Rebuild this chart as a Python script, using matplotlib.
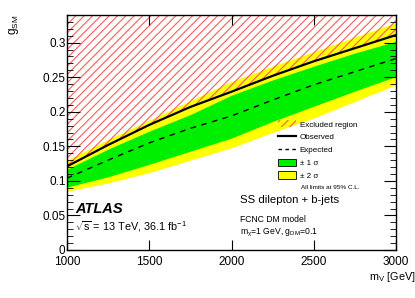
import numpy as np
import matplotlib
matplotlib.use("Agg")
import matplotlib.pyplot as plt
from matplotlib.patches import Patch
from matplotlib.lines import Line2D
from matplotlib.ticker import MultipleLocator

plt.rcParams['font.family'] = ['Liberation Sans', 'DejaVu Sans']
plt.rcParams['mathtext.fontset'] = 'custom'
plt.rcParams['mathtext.rm'] = 'Liberation Sans'
plt.rcParams['mathtext.it'] = 'Liberation Sans'
plt.rcParams['hatch.linewidth'] = 0.8

# mediator mass points (GeV)
m_v = [1000, 1250, 1500, 1750, 2000, 2250, 2500, 2750, 3000]
# limits on g_SM
observed = [0.121, 0.152, 0.181, 0.207, 0.229, 0.252, 0.273, 0.292, 0.311]
expected = [0.104, 0.130, 0.155, 0.176, 0.194, 0.217, 0.239, 0.258, 0.277]
sig1_up = [0.117, 0.146, 0.172, 0.196, 0.224, 0.246, 0.266, 0.285, 0.302]
sig1_dn = [0.091, 0.106, 0.124, 0.143, 0.162, 0.186, 0.208, 0.230, 0.251]
sig2_up = [0.130, 0.160, 0.188, 0.216, 0.244, 0.266, 0.287, 0.308, 0.329]
sig2_dn = [0.085, 0.097, 0.112, 0.130, 0.148, 0.170, 0.191, 0.215, 0.239]

y_top = 0.34

fig = plt.figure(figsize=(4.15, 2.98), dpi=100)
ax = fig.add_axes([67/415, 48/298, 329/415, 235/298])

ax.fill_between(m_v, sig2_dn, sig2_up, color='#ffff00', linewidth=0)
ax.fill_between(m_v, sig1_dn, sig1_up, color='#00ee00', linewidth=0)
ax.plot(m_v, expected, color='black', linestyle=(0, (4, 4)), linewidth=1.0)
ax.fill_between(m_v, observed, y_top, facecolor='none', edgecolor='#ff5a5a',
                hatch='////', linewidth=0)
ax.plot(m_v, observed, color='black', linewidth=1.6)

ax.set_xlim(1000, 3000)
ax.set_ylim(0, y_top)

# ROOT style ticks
ax.xaxis.set_major_locator(MultipleLocator(500))
ax.yaxis.set_major_locator(MultipleLocator(0.05))
ax.yaxis.set_minor_locator(MultipleLocator(0.01))
ax.tick_params(axis='both', which='both', direction='in', top=True, right=True)
ax.tick_params(axis='y', which='major', length=9, labelsize=8.5, pad=1)
ax.tick_params(axis='y', which='minor', length=4.5)
ax.tick_params(axis='x', which='major', length=7, labelsize=8.5, pad=4)
ax.set_yticks([0, 0.05, 0.1, 0.15, 0.2, 0.25, 0.3])
ax.set_yticklabels(['0', '0.05', '0.1', '0.15', '0.2', '0.25', '0.3'])
for sp in ax.spines.values():
    sp.set_linewidth(1.0)

ax.set_xlabel(r'm$_{\mathrm{V}}$ [GeV]', fontsize=7.8, loc='right')
ax.xaxis.set_label_coords(1.06, -0.085)
ax.set_ylabel(r'g$_{\mathrm{SM}}$', fontsize=8.5, loc='top')
ax.yaxis.set_label_coords(-0.14, 1.0)

handles = [
    Patch(facecolor='none', edgecolor='#ff5a5a', hatch='////', linewidth=0),
    Line2D([], [], color='black', linewidth=1.6),
    Line2D([], [], color='black', linestyle=(0, (2.5, 2.5)), linewidth=1.0),
    Patch(facecolor='#00ee00', edgecolor='black', linewidth=0.6),
    Patch(facecolor='#ffff00', edgecolor='black', linewidth=0.6),
]
labels = ['Excluded region', 'Observed', 'Expected', '± 1 σ', '± 2 σ']
leg = ax.legend(handles, labels, loc='upper left', bbox_to_anchor=(0.641, 0.552),
                frameon=False, fontsize=5.8, handlelength=2.2, handleheight=1.0,
                labelspacing=0.55, handletextpad=0.5, borderpad=0, borderaxespad=0)

ax.text(0.71, 0.268, 'All limits at 95% C.L.', transform=ax.transAxes, fontsize=4.6,
        va='center')
ax.text(0.525, 0.214, 'SS dilepton + b-jets', transform=ax.transAxes, fontsize=8.2,
        va='center')
ax.text(0.525, 0.13, 'FCNC DM model', transform=ax.transAxes, fontsize=6.2,
        va='center')
ax.text(0.525, 0.072, r'm$_{\chi}$=1 GeV, g$_{\mathrm{DM}}$=0.1', transform=ax.transAxes,
        fontsize=6.2, va='center')

ax.text(0.025, 0.175, 'ATLAS', transform=ax.transAxes, fontsize=10.5,
        fontweight='bold', fontstyle='italic', va='center')
ax.text(0.025, 0.10, r'$\sqrt{\mathrm{s}}$ = 13 TeV, 36.1 fb$^{-1}$',
        transform=ax.transAxes, fontsize=7.8, va='center')

fig.savefig('out.png', dpi=100)
